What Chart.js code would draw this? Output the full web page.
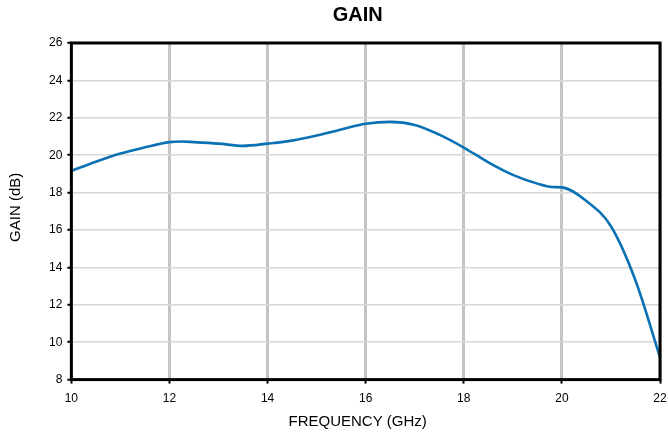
<!DOCTYPE html>
<html>
<head>
<meta charset="utf-8">
<script src="https://cdn.jsdelivr.net/npm/chart.js@4"></script>
<style>
  html, body { margin: 0; padding: 0; background: #fff; }
  #wrap { width: 668px; height: 437px; }
</style>
</head>
<body>
<div id="wrap"><canvas id="gainChart"></canvas></div>
<script>
// ─── DATA ───
const FREQ = [10, 10.5, 11, 11.5, 12, 12.25, 12.5, 13, 13.5, 14, 14.5, 15, 15.5, 16, 16.5, 17, 17.5, 18, 18.5, 19, 19.5, 19.8, 20, 20.5, 21, 21.5, 22];
const GAIN = [19.16, 19.65, 20.09, 20.42, 20.70, 20.73, 20.70, 20.62, 20.50, 20.62, 20.78, 21.05, 21.38, 21.68, 21.78, 21.62, 21.10, 20.41, 19.62, 18.95, 18.48, 18.30, 18.28, 17.55, 16.2, 13.3, 9.2];
const X_TICKS = [10, 12, 14, 16, 18, 20, 22];
const Y_TICKS = [8, 10, 12, 14, 16, 18, 20, 22, 24, 26];

const FONT = 'Arial, "Liberation Sans", sans-serif';

// frame around the plot area + titles (the original centres them a bit left of the plot)
const frame = {
  id: 'frame',
  afterDatasetsDraw(chart) {
    const { ctx, chartArea: a } = chart;
    ctx.save();
    ctx.strokeStyle = '#000';
    ctx.lineWidth = 3;
    ctx.strokeRect(a.left, a.top, a.right - a.left, a.bottom - a.top);

    const cx = (a.left + a.right) / 2 - 8;
    ctx.fillStyle = '#000';
    ctx.textAlign = 'center';
    ctx.textBaseline = 'middle';
    ctx.font = 'bold 20px ' + FONT;
    ctx.fillText('GAIN', cx, 15);
    ctx.font = '15px ' + FONT;
    ctx.fillText('FREQUENCY (GHz)', cx, 422);
    ctx.translate(16, (a.top + a.bottom) / 2 - 4);
    ctx.rotate(-Math.PI / 2);
    ctx.fillText('GAIN (dB)', 0, 0);
    ctx.restore();
  },
};

const ctx = document.getElementById('gainChart').getContext('2d');
new Chart(ctx, {
  type: 'line',
  data: {
    datasets: [{
      label: 'GAIN',
      data: FREQ.map((f, i) => ({ x: f, y: GAIN[i] })),
      borderColor: '#0a72b4',
      borderWidth: 2.6,
      pointRadius: 0,
      cubicInterpolationMode: 'monotone',
      clip: false,
    }],
  },
  options: {
    responsive: true, maintainAspectRatio: false, animation: false,
    layout: { padding: { left: 44, right: 2, top: 43, bottom: 23 } },
    plugins: {
      legend: { display: false },
      tooltip: { enabled: false },
    },
    scales: {
      x: {
        type: 'linear', min: 10, max: 22,
        afterBuildTicks: s => { s.ticks = X_TICKS.map(v => ({ value: v })); },
        afterFit: s => { s.paddingRight = 8; },
        grid: { color: '#c4c4c4', lineWidth: 3, tickColor: '#000', tickLength: 4, tickWidth: 2 },
        border: { display: false },
        ticks: { color: '#000', font: { family: FONT, size: 12 }, padding: 8, maxRotation: 0 },
      },
      y: {
        min: 8, max: 26,
        afterBuildTicks: s => { s.ticks = Y_TICKS.map(v => ({ value: v })); },
        grid: { color: '#d8d8d8', lineWidth: 1.5, tickColor: '#000', tickLength: 4, tickWidth: 2 },
        border: { display: false },
        ticks: { color: '#000', font: { family: FONT, size: 12 }, padding: 5 },
      },
    },
  },
  plugins: [frame],
});
</script>
</body>
</html>
